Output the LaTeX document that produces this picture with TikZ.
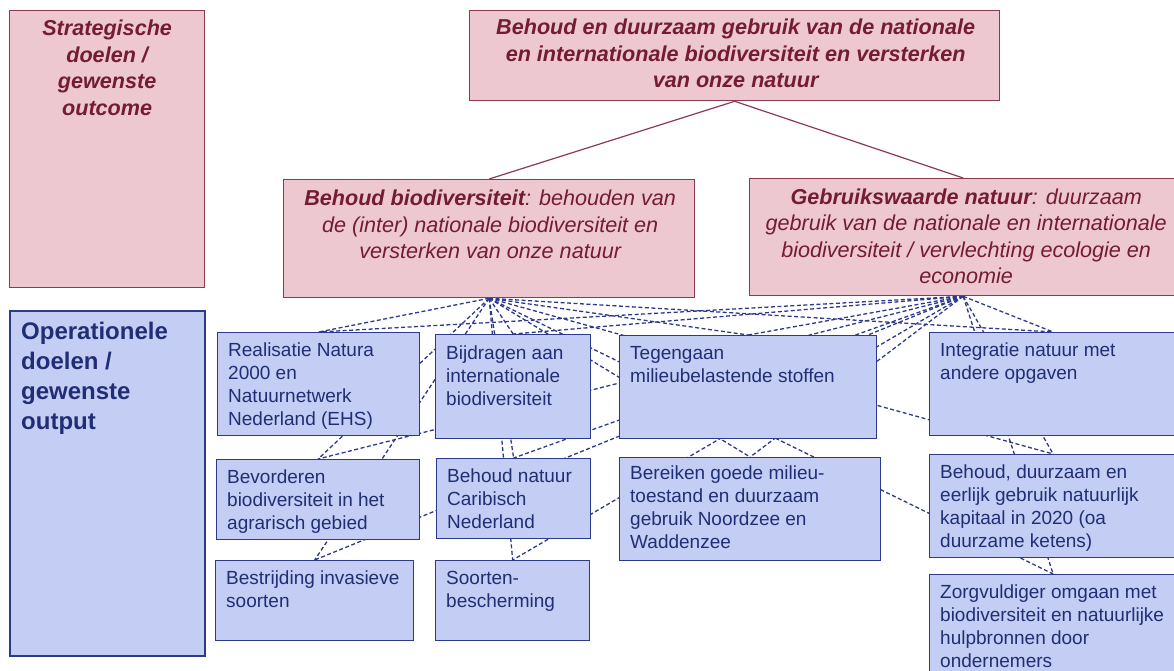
\documentclass[tikz,border=0pt]{standalone}
\usepackage{fontspec}
\setmainfont{Liberation Sans}
\usetikzlibrary{calc}
\pgfdeclarelayer{bg}
\pgfsetlayers{bg,main}
\definecolor{pinkfill}{RGB}{237,200,208}
\definecolor{pinkdraw}{RGB}{140,58,80}
\definecolor{redtext}{RGB}{115,28,52}
\definecolor{bluefill}{RGB}{196,205,243}
\definecolor{bluedraw}{RGB}{45,58,140}
\definecolor{bluetext}{RGB}{32,46,118}
\tikzset{
  pbox/.style={draw=pinkdraw, fill=pinkfill, line width=1.3pt, inner sep=0pt, anchor=north west},
  bbox/.style={draw=bluedraw, fill=bluefill, line width=1.3pt, inner sep=0pt, anchor=north west},
  otext/.style={anchor=north west, inner sep=0pt, align=left, font=\fontsize{19}{23}\selectfont, text=bluetext},
  ptext/.style={anchor=north, inner sep=0pt, align=center, font=\fontsize{21.6}{26.5}\selectfont\itshape, text=redtext},
  redline/.style={draw=pinkdraw, line width=1.2pt},
  dl/.style={draw=bluedraw, line width=1.3pt, dash pattern=on 4pt off 2.5pt},
}
\begin{document}
\begin{tikzpicture}[x=1pt,y=-1pt]
\useasboundingbox (0,0) rectangle (1174,671);
% left panels
\node[pbox, minimum width=195pt, minimum height=277pt] (sp) at (9,10) {};
\node[ptext] (spt) at ($(sp.north)+(0,10)$) {\bfseries Strategische\\\bfseries doelen /\\\bfseries gewenste\\\bfseries outcome};
\node[bbox, line width=1.6pt, minimum width=195pt, minimum height=345pt] (op) at (9,310) {};
\node[anchor=north west, inner sep=0pt, align=left, font=\fontsize{24}{30}\selectfont\bfseries, text=bluetext] (opt) at ($(op.north west)+(12,12)$) {Operationele\\doelen /\\gewenste\\output};
% top
\node[pbox, minimum width=530pt, minimum height=90pt] (top) at (469,10) {};
\node[ptext] (topt) at ($(top.north)+(1,9)$) {\bfseries Behoud en duurzaam gebruik van de nationale\\\bfseries en internationale biodiversiteit en versterken\\\bfseries van onze natuur};
\node[pbox, minimum width=411pt, minimum height=118pt] (b1) at (283,179) {};
\node[ptext] (b1t) at ($(b1.north)+(1,11)$) {\textbf{Behoud biodiversiteit}: behouden van\\de (inter) nationale biodiversiteit en\\versterken van onze natuur};
\node[pbox, minimum width=427pt, minimum height=117pt] (b2) at (749,178) {};
\node[ptext] (b2t) at ($(b2.north)+(3,10.5)$) {\textbf{Gebruikswaarde natuur}: duurzaam\\gebruik van de nationale en internationale\\biodiversiteit / vervlechting ecologie en\\economie};
\draw[redline] (top.south) -- (b1.north);
\draw[redline] (top.south) -- (b2.north);
% operational boxes
\node[bbox, minimum width=202pt, minimum height=103pt] (o1) at (217,332) {};
\node[bbox, minimum width=155pt, minimum height=104pt] (o2) at (435,334) {};
\node[bbox, minimum width=257pt, minimum height=103pt] (o3) at (619,335) {};
\node[bbox, minimum width=247pt, minimum height=103pt] (o4) at (929,332) {};
\node[bbox, minimum width=203pt, minimum height=80pt] (o5) at (216,459) {};
\node[bbox, minimum width=154pt, minimum height=80pt] (o6) at (436,458) {};
\node[bbox, minimum width=261pt, minimum height=103pt] (o7) at (619,457) {};
\node[bbox, minimum width=247pt, minimum height=103pt] (o8) at (929,454) {};
\node[bbox, minimum width=198pt, minimum height=80pt] (o9) at (215,560) {};
\node[bbox, minimum width=154pt, minimum height=80pt] (o10) at (435,560) {};
\node[bbox, minimum width=247pt, minimum height=110pt] (o11) at (929,574) {};
\node[otext] (t1) at ($(o1.north west)+(11,11)$) {Realisatie Natura\\2000 en\\Natuurnetwerk\\Nederland (EHS)};
\node[otext] (t2) at ($(o2.north west)+(11,12)$) {Bijdragen aan\\internationale\\biodiversiteit};
\node[otext] (t3) at ($(o3.north west)+(11,11)$) {Tegengaan\\milieubelastende stoffen};
\node[otext] (t4) at ($(o4.north west)+(11,11)$) {Integratie natuur met\\andere opgaven};
\node[otext] (t5) at ($(o5.north west)+(11,11)$) {Bevorderen\\biodiversiteit in het\\agrarisch gebied};
\node[otext] (t6) at ($(o6.north west)+(11,11)$) {Behoud natuur\\Caribisch\\Nederland};
\node[otext] (t7) at ($(o7.north west)+(11,9)$) {Bereiken goede milieu-\\toestand en duurzaam\\gebruik Noordzee en\\Waddenzee};
\node[otext] (t8) at ($(o8.north west)+(11,11)$) {Behoud, duurzaam en\\eerlijk gebruik natuurlijk\\kapitaal in 2020 (oa\\duurzame ketens)};
\node[otext] (t9) at ($(o9.north west)+(11,11)$) {Bestrijding invasieve\\soorten};
\node[otext] (t10) at ($(o10.north west)+(11,11)$) {Soorten-\\bescherming};
\node[otext] (t11) at ($(o11.north west)+(11,11)$) {Zorgvuldiger omgaan met\\biodiversiteit en natuurlijke\\hulpbronnen door\\ondernemers};
\begin{pgfonlayer}{bg}
\foreach \i in {1,...,11} {
  \draw[dl] (b1.south) -- (o\i.north);
  \draw[dl] (b2.south) -- (o\i.north);
}
\end{pgfonlayer}
\end{tikzpicture}
\end{document}
